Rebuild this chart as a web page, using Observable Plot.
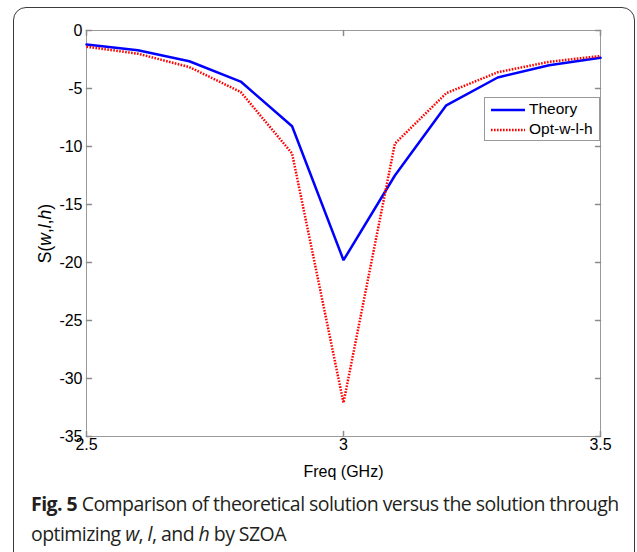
<!DOCTYPE html>
<html><head><meta charset="utf-8">
<script src="https://cdn.jsdelivr.net/npm/d3@7"></script>
<script src="https://cdn.jsdelivr.net/npm/@observablehq/plot@0.6"></script>
<style>
body{margin:0;background:#fff;}
#wrap{position:relative;width:637px;height:552px;overflow:hidden;}
#box{position:absolute;left:13px;top:7px;width:620px;height:620px;border:1.5px solid #3a3a3a;border-radius:13px;}
#chart{position:absolute;left:0;top:0;}
#legend{position:absolute;left:484px;top:97px;width:114px;height:42px;border:1px solid #999;background:#fff;font-family:"Liberation Sans",Arial,sans-serif;font-size:15.5px;color:#000;}
#legend .row{position:absolute;left:6px;height:18px;line-height:18px;white-space:nowrap;}
#legend svg{vertical-align:middle;margin-right:4px;}
#caption{position:absolute;left:31px;top:489px;font-family:"Open Sans",sans-serif;font-size:19.5px;line-height:30px;color:#231f20;letter-spacing:-0.55px;white-space:nowrap;}
#caption b{font-weight:700;}
#chart g[aria-label="y-axis tick label"], #chart g[aria-label="x-axis tick label"]{font-size:16px !important;}
#chart g[aria-label="y-axis tick label"] text, #chart g[aria-label="x-axis tick label"] text{font-size:16px !important;}
</style></head>
<body>
<div id="wrap">
  <div id="box"></div>
  <div id="chart"></div>
  <div id="legend"></div>
  <div id="caption"><b>Fig. 5</b> Comparison of theoretical solution versus the solution through<br>optimizing <i>w</i>, <i>l</i>, and <i>h</i> by SZOA</div>
</div>
<script>
const freq = [2.5, 2.6, 2.7, 2.8, 2.9, 3.0, 3.1, 3.2, 3.3, 3.4, 3.5];
const theory = [-1.2, -1.7, -2.65, -4.4, -8.25, -19.8, -12.5, -6.45, -4.05, -3.0, -2.35];
const optWLH = [-1.4, -2.0, -3.15, -5.3, -10.6, -32.1, -9.75, -5.4, -3.6, -2.7, -2.2];
const seriesNames = ["Theory", "Opt-w-l-h"];
const xTicks = [2.5, 3, 3.5];
const yTicks = [0, -5, -10, -15, -20, -25, -30, -35];
const xDomain = [2.5, 3.5];
const yDomain = [-35, 0];

const rows = [];
freq.forEach((f, i) => {
  rows.push({f, v: theory[i], s: seriesNames[0]});
  rows.push({f, v: optWLH[i], s: seriesNames[1]});
});

const tickShape = {draw(ctx, l) { ctx.moveTo(0, 0); ctx.lineTo(0, -l); }};
const tickColor = "#8c8c8c";
const dots = "1.6 1.4";

const chart = Plot.plot({
  width: 637, height: 480,
  marginTop: 30, marginLeft: 86, marginRight: 37, marginBottom: 44,
  style: {fontFamily: "'Liberation Sans', Arial, sans-serif", color: "#000", background: "transparent"},
  x: {domain: xDomain},
  y: {domain: yDomain},
  marks: [
    Plot.frame({stroke: "#9a9a9a"}),
    Plot.vector(yTicks, {x: () => xDomain[0], y: d => d, length: 5, rotate: 90, anchor: "start", shape: tickShape, stroke: tickColor}),
    Plot.vector(yTicks, {x: () => xDomain[1], y: d => d, length: 5, rotate: -90, anchor: "start", shape: tickShape, stroke: tickColor}),
    Plot.vector(xTicks, {x: d => d, y: () => yDomain[0], length: 5, rotate: 0, anchor: "start", shape: tickShape, stroke: tickColor}),
    Plot.vector(xTicks, {x: d => d, y: () => yDomain[1], length: 5, rotate: 180, anchor: "start", shape: tickShape, stroke: tickColor}),
    Plot.axisY({ticks: yTicks, tickSize: 0, tickPadding: 4, fontSize: 16, tickFormat: d => String(d),
      label: "S(w,l,h)", labelAnchor: "center", labelArrow: "none", labelOffset: 48}),
    Plot.axisX({ticks: xTicks, tickSize: 0, tickPadding: 2.5, fontSize: 16, tickFormat: d => String(d),
      label: "Freq (GHz)", labelAnchor: "center", labelArrow: "none", labelOffset: 40}),
    Plot.line(rows.filter(d => d.s === seriesNames[0]), {x: "f", y: "v", stroke: "#0000ff", strokeWidth: 2.5, strokeLinejoin: "miter"}),
    Plot.line(rows.filter(d => d.s === seriesNames[1]), {x: "f", y: "v", stroke: "#ff0000", strokeWidth: 2.5, strokeDasharray: dots, strokeLinecap: "butt", strokeLinejoin: "miter"})
  ]
});
document.getElementById("chart").appendChild(chart);

const svg = d3.select(chart);
svg.selectAll('[aria-label="x-axis label"] text').style("font-size", "16px");
svg.selectAll('[aria-label="y-axis label"] text')
  .style("font-size", "17.5px")
  .html('S(<tspan font-style="italic">w</tspan>,<tspan font-style="italic">l</tspan>,<tspan font-style="italic">h</tspan>)');

const legend = d3.select("#legend");
const styles = [{stroke: "#0000ff", dash: null}, {stroke: "#ff0000", dash: dots}];
seriesNames.forEach((name, i) => {
  const row = legend.append("div").attr("class", "row").style("top", (2 + i * 20) + "px");
  const s = row.append("svg").attr("width", 34).attr("height", 6);
  s.append("line").attr("x1", 0).attr("x2", 34).attr("y1", 3).attr("y2", 3)
    .attr("stroke", styles[i].stroke).attr("stroke-width", 2.5).attr("stroke-dasharray", styles[i].dash);
  row.append("span").text(name);
});
</script>
</body></html>
